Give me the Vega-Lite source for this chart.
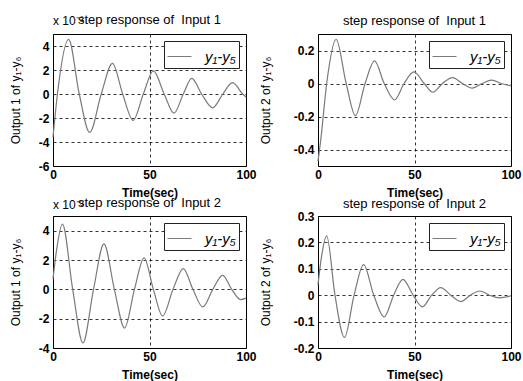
{
  "$schema": "https://vega.github.io/schema/vega-lite/v6.json",
  "background": "white",
  "padding": {"left": 8, "top": 13, "right": 0, "bottom": 0},
  "datasets": {
    "p1": [
      {"t": 0, "v": -3.6}, {"t": 2.3, "v": 0}, {"t": 8.1, "v": 4.56}, {"t": 13.6, "v": 0},
      {"t": 19.0, "v": -3.2}, {"t": 25.0, "v": 0}, {"t": 30.8, "v": 2.55}, {"t": 36.1, "v": 0},
      {"t": 41.5, "v": -2.2}, {"t": 46.8, "v": 0}, {"t": 52.0, "v": 1.93}, {"t": 57.6, "v": 0},
      {"t": 62.7, "v": -1.6}, {"t": 67.5, "v": 0}, {"t": 71.9, "v": 1.3}, {"t": 77.0, "v": 0},
      {"t": 82.7, "v": -1.15}, {"t": 88.0, "v": 0}, {"t": 93.0, "v": 0.94}, {"t": 98.3, "v": 0},
      {"t": 100, "v": -0.25}
    ],
    "p2": [
      {"t": 0, "v": -0.47}, {"t": 1.4, "v": -0.345}, {"t": 4.5, "v": 0}, {"t": 9.4, "v": 0.267},
      {"t": 14.6, "v": 0}, {"t": 19.4, "v": -0.195}, {"t": 24.4, "v": 0}, {"t": 29.3, "v": 0.137},
      {"t": 34.3, "v": 0}, {"t": 39.7, "v": -0.1}, {"t": 44.6, "v": 0}, {"t": 49.7, "v": 0.07},
      {"t": 55.0, "v": 0}, {"t": 59.5, "v": -0.053}, {"t": 64.5, "v": 0}, {"t": 69.7, "v": 0.036},
      {"t": 74.9, "v": 0}, {"t": 80.0, "v": -0.028}, {"t": 85.0, "v": 0}, {"t": 90.0, "v": 0.02},
      {"t": 95.0, "v": 0}, {"t": 100, "v": -0.015}
    ],
    "p3": [
      {"t": 0, "v": 0.7}, {"t": 1.7, "v": 2.54}, {"t": 4.9, "v": 4.45}, {"t": 10.2, "v": 0},
      {"t": 15.5, "v": -3.66}, {"t": 21.0, "v": 0}, {"t": 26.4, "v": 3.1}, {"t": 31.8, "v": 0},
      {"t": 37.1, "v": -2.64}, {"t": 42.2, "v": 0}, {"t": 47.2, "v": 2.15}, {"t": 52.0, "v": 0},
      {"t": 56.8, "v": -1.82}, {"t": 62.2, "v": 0}, {"t": 67.5, "v": 1.41}, {"t": 72.5, "v": 0},
      {"t": 77.6, "v": -1.2}, {"t": 82.8, "v": 0}, {"t": 87.9, "v": 0.95}, {"t": 92.6, "v": 0},
      {"t": 97.2, "v": -0.7}, {"t": 100, "v": -0.6}
    ],
    "p4": [
      {"t": 0, "v": 0.04}, {"t": 1.9, "v": 0.15}, {"t": 4.5, "v": 0.225}, {"t": 8.8, "v": 0},
      {"t": 13.7, "v": -0.16}, {"t": 18.7, "v": 0}, {"t": 23.6, "v": 0.116}, {"t": 28.9, "v": 0},
      {"t": 34.3, "v": -0.082}, {"t": 39.2, "v": 0}, {"t": 44.0, "v": 0.06}, {"t": 49.3, "v": 0},
      {"t": 54.1, "v": -0.044}, {"t": 58.9, "v": 0}, {"t": 63.6, "v": 0.029}, {"t": 68.8, "v": 0},
      {"t": 74.0, "v": -0.024}, {"t": 79.0, "v": 0}, {"t": 83.8, "v": 0.016}, {"t": 88.9, "v": 0},
      {"t": 93.9, "v": -0.01}, {"t": 100, "v": -0.003}
    ]
  },
  "columns": 2,
  "spacing": {"row": 50, "column": 72},
  "bounds": "flush",
  "concat": [
    {
      "width": 193, "height": 132,
      "title": {"text": "step response of \u00a0Input 1", "offset": -12},
      "layer": [
        {
          "data": {"name": "p1"},
          "mark": {"type": "line", "interpolate": "monotone", "strokeWidth": 1.2},
          "encoding": {
            "x": {"field": "t", "type": "quantitative", "scale": {"domain": [0, 100], "nice": false}, "axis": {"values": [0, 50, 100], "title": "Time(sec)", "labelOverlap": false}},
            "y": {"field": "v", "type": "quantitative", "scale": {"domain": [-6, 5], "nice": false, "zero": false}, "axis": {"values": [-6, -4, -2, 0, 2, 4], "title": "Output 1 of y₁-y₆", "labelOverlap": false, "titlePadding": 16}},
            "color": {"datum": "y₁-y₅", "type": "nominal", "scale": {"range": ["#7a7a7a"]}, "legend": {"title": null}}
          }
        },
        {
          "data": {"values": [{}]},
          "mark": {"type": "text", "text": "x 10⁻³", "align": "left", "baseline": "alphabetic", "dy": -9, "font": "Liberation Sans", "fontSize": 12, "color": "black"},
          "encoding": {
            "x": {"datum": 0, "type": "quantitative", "axis": {"values": [0, 50, 100], "title": "Time(sec)", "labelOverlap": false}},
            "y": {"datum": 5, "type": "quantitative", "axis": {"values": [-6, -4, -2, 0, 2, 4], "title": "Output 1 of y₁-y₆", "labelOverlap": false, "titlePadding": 16}}
          }
        }
      ]
    },
    {
      "width": 193, "height": 132,
      "title": {"text": "step response of \u00a0Input 1", "offset": 6},
      "layer": [
        {
          "data": {"name": "p2"},
          "mark": {"type": "line", "interpolate": "monotone", "strokeWidth": 1.2},
          "encoding": {
            "x": {"field": "t", "type": "quantitative", "scale": {"domain": [0, 100], "nice": false}, "axis": {"values": [0, 50, 100], "title": "Time(sec)", "labelOverlap": false}},
            "y": {"field": "v", "type": "quantitative", "scale": {"domain": [-0.5, 0.3], "nice": false, "zero": false}, "axis": {"values": [-0.4, -0.2, 0, 0.2], "title": "Output 2 of y₁-y₆", "labelOverlap": false, "titlePadding": 21}},
            "color": {"datum": "y₁-y₅", "type": "nominal", "scale": {"range": ["#7a7a7a"]}, "legend": {"title": null}}
          }
        }
      ]
    },
    {
      "width": 193, "height": 132,
      "title": {"text": "step response of \u00a0Input 2", "offset": -11},
      "layer": [
        {
          "data": {"name": "p3"},
          "mark": {"type": "line", "interpolate": "monotone", "strokeWidth": 1.2},
          "encoding": {
            "x": {"field": "t", "type": "quantitative", "scale": {"domain": [0, 100], "nice": false}, "axis": {"values": [0, 50, 100], "title": "Time(sec)", "labelOverlap": false}},
            "y": {"field": "v", "type": "quantitative", "scale": {"domain": [-4, 5], "nice": false, "zero": false}, "axis": {"values": [-4, -2, 0, 2, 4], "title": "Output 1 of y₁-y₆", "labelOverlap": false, "titlePadding": 16}},
            "color": {"datum": "y₁-y₅", "type": "nominal", "scale": {"range": ["#7a7a7a"]}, "legend": {"title": null}}
          }
        },
        {
          "data": {"values": [{}]},
          "mark": {"type": "text", "text": "x 10⁻³", "align": "left", "baseline": "alphabetic", "dy": -7, "font": "Liberation Sans", "fontSize": 12, "color": "black"},
          "encoding": {
            "x": {"datum": 0, "type": "quantitative", "axis": {"values": [0, 50, 100], "title": "Time(sec)", "labelOverlap": false}},
            "y": {"datum": 5, "type": "quantitative", "axis": {"values": [-4, -2, 0, 2, 4], "title": "Output 1 of y₁-y₆", "labelOverlap": false, "titlePadding": 16}}
          }
        }
      ]
    },
    {
      "width": 193, "height": 132,
      "title": {"text": "step response of \u00a0Input 2", "offset": -1},
      "layer": [
        {
          "data": {"name": "p4"},
          "mark": {"type": "line", "interpolate": "monotone", "strokeWidth": 1.2},
          "encoding": {
            "x": {"field": "t", "type": "quantitative", "scale": {"domain": [0, 100], "nice": false}, "axis": {"values": [0, 50, 100], "title": "Time(sec)", "labelOverlap": false}},
            "y": {"field": "v", "type": "quantitative", "scale": {"domain": [-0.2, 0.3], "nice": false, "zero": false}, "axis": {"values": [-0.2, -0.1, 0, 0.1, 0.2, 0.3], "title": "Output 2 of y₁-y₆", "labelOverlap": false, "titlePadding": 21}},
            "color": {"datum": "y₁-y₅", "type": "nominal", "scale": {"range": ["#7a7a7a"]}, "legend": {"title": null}}
          }
        }
      ]
    }
  ],
  "resolve": {"scale": {"color": "independent", "x": "independent", "y": "independent"}, "legend": {"color": "independent"}},
  "config": {
    "view": {"stroke": "black", "strokeWidth": 1},
    "axis": {
      "grid": true, "gridColor": "black", "gridDash": [3, 3], "gridOpacity": 1, "gridWidth": 0.8,
      "domain": false, "ticks": false,
      "labelFont": "Liberation Sans", "labelFontSize": 12, "labelFontWeight": "bold", "labelColor": "black",
      "labelFlush": false, "labelOverlap": false, "labelExpr": "'' + datum.value",
      "titleFont": "Liberation Sans", "titleFontSize": 12, "titleColor": "black", "titleFontWeight": "normal"
    },
    "axisX": {"labelPadding": 3, "titlePadding": 7, "titleFontWeight": "bold"},
    "axisY": {"labelPadding": 4},
    "title": {"font": "Liberation Sans", "fontSize": 13, "fontWeight": "normal", "color": "black", "anchor": "middle"},
    "legend": {
      "orient": "top-right", "offset": 7, "symbolType": "stroke", "symbolSize": 576, "symbolStrokeWidth": 1,
      "strokeColor": "#222222", "fillColor": "white", "padding": 3, "cornerRadius": 0,
      "labelFont": "Liberation Sans", "labelFontSize": 15, "labelFontStyle": "italic", "labelColor": "black", "labelOffset": 13
    }
  }
}
